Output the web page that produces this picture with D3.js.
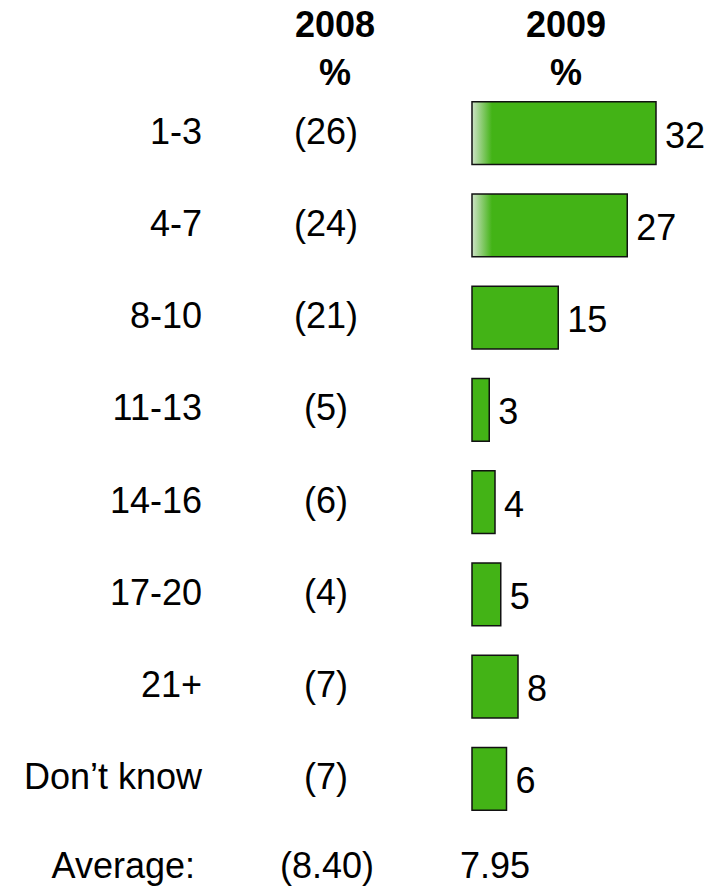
<!DOCTYPE html>
<html>
<head>
<meta charset="utf-8">
<script src="https://cdn.jsdelivr.net/npm/d3@7"></script>
<style>
    body { margin: 0; background: #fff; }
    svg text { font-family: Arial, "Liberation Sans", sans-serif; fill: #000; }
</style>
</head>
<body>
<svg id="chart" width="711" height="888"></svg>
<script>
const categories = ["1-3", "4-7", "8-10", "11-13", "14-16", "17-20", "21+", "Don\u2019t know"];
const values2008 = [26, 24, 21, 5, 6, 4, 7, 7];
const values2009 = [32, 27, 15, 3, 4, 5, 8, 6];
const fadedBars = ["1-3", "4-7"];
const averageLabel = "Average:";
const average2008 = "8.40";
const average2009 = "7.95";
const headers = [["2008", "%"], ["2009", "%"]];

const svg = d3.select("#chart");

const fontSize = 36;
const green = "#43b316";

const y = d3.scaleBand()
    .domain(categories)
    .range([87, 825])
    .paddingInner(0.32)
    .paddingOuter(0.16);

const x = d3.scaleLinear()
    .domain([0, 32])
    .range([472, 656]);

const labelX = 202,
    col2008 = 326,
    col2009 = 566;

// gradient for the wide bars (light fade at the left edge)
const defs = svg.append("defs");
const grad = defs.append("linearGradient")
    .attr("id", "fade")
    .attr("gradientUnits", "userSpaceOnUse")
    .attr("x1", x(0)).attr("x2", x(0) + 20)
    .attr("y1", 0).attr("y2", 0);
grad.append("stop").attr("offset", 0).attr("stop-color", "#cfe3c8");
grad.append("stop").attr("offset", 1).attr("stop-color", green);

// headers
svg.selectAll("text.header")
    .data(headers)
    .enter()
    .append("text")
        .attr("class", "header")
        .attr("x", function (d, i) { return i === 0 ? col2008 + 9 : col2009; })
        .attr("y", 37)
        .attr("text-anchor", "middle")
        .attr("font-size", fontSize)
        .attr("font-weight", "bold")
        .each(function (d) {
            const t = d3.select(this);
            const cx = t.attr("x");
            t.append("tspan").attr("x", cx).attr("dy", 0).text(d[0]);
            t.append("tspan").attr("x", cx).attr("dy", 48).text(d[1]);
        });

const rows = svg.selectAll("g.row")
    .data(categories)
    .enter()
    .append("g")
        .attr("class", "row")
        .attr("transform", function (d) { return "translate(0," + y(d) + ")"; });

const mid = y.bandwidth() / 2 - 2;

rows.append("text")
    .attr("x", labelX)
    .attr("y", mid)
    .attr("dy", "0.35em")
    .attr("text-anchor", "end")
    .attr("font-size", fontSize)
    .text(function (d) { return d; });

rows.append("text")
    .attr("x", col2008)
    .attr("y", mid)
    .attr("dy", "0.35em")
    .attr("text-anchor", "middle")
    .attr("font-size", fontSize)
    .text(function (d, i) { return "(" + values2008[i] + ")"; });

rows.append("rect")
    .attr("x", x(0))
    .attr("y", 0)
    .attr("width", function (d, i) { return x(values2009[i]) - x(0); })
    .attr("height", y.bandwidth())
    .attr("fill", function (d) { return fadedBars.indexOf(d) >= 0 ? "url(#fade)" : green; })
    .attr("stroke", "#111")
    .attr("stroke-width", 1.5);

rows.append("text")
    .attr("x", function (d, i) { return x(values2009[i]) + 9; })
    .attr("y", mid + 4)
    .attr("dy", "0.35em")
    .attr("font-size", fontSize)
    .text(function (d, i) { return values2009[i]; });

// average row
const avgY = 865;
svg.append("text")
    .attr("x", 195).attr("y", avgY).attr("dy", "0.35em")
    .attr("text-anchor", "end")
    .attr("font-size", fontSize)
    .text(averageLabel);
svg.append("text")
    .attr("x", col2008 + 1).attr("y", avgY).attr("dy", "0.35em")
    .attr("text-anchor", "middle")
    .attr("font-size", fontSize)
    .text("(" + average2008 + ")");
svg.append("text")
    .attr("x", x(0) - 12).attr("y", avgY).attr("dy", "0.35em")
    .attr("font-size", fontSize)
    .text(average2009);
</script>
</body>
</html>
